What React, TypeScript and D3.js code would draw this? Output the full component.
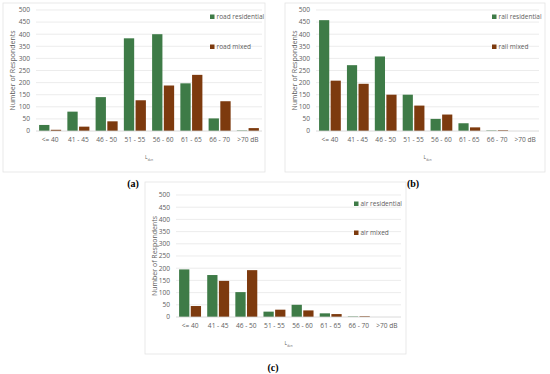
import React from "react";
import * as d3 from "d3";

const categories = ["<= 40", "41 - 45", "46 - 50", "51 - 55", "56 - 60", "61 - 65", "66 - 70", ">70 dB"];
const yTicks = [0, 50, 100, 150, 200, 250, 300, 350, 400, 450, 500];

const roadResidential = [25, 80, 140, 383, 400, 197, 52, 2];
const roadMixed = [5, 18, 40, 127, 188, 232, 123, 12];
const railResidential = [458, 272, 308, 150, 50, 32, 2, 0];
const railMixed = [208, 195, 150, 105, 68, 15, 3, 0];
const airResidential = [195, 172, 102, 22, 50, 15, 2, 0];
const airMixed = [45, 148, 192, 30, 27, 12, 3, 0];

const seriesKeys = ["residential", "mixed"];
const RES = "#3e7b47";
const MIX = "#7d3a0e";
const FONT = "'Open Sans', 'Liberation Sans', sans-serif";

type PanelProps = {
  frame: [number, number, number, number];
  plotX: [number, number];
  plotY: [number, number];
  res: number[];
  mix: number[];
  names: [string, string];
  legendX: number;
  legendY: [number, number];
  label: string;
  labelPos: [number, number];
};

function Panel(p: PanelProps) {
  const x = d3.scaleBand<string>().domain(categories).range(p.plotX).paddingInner(0.22).paddingOuter(0.11);
  const xi = d3.scaleBand<string>().domain(seriesKeys).range([0, x.bandwidth()]).paddingInner(0.12);
  const y = d3.scaleLinear().domain([0, 500]).range([p.plotY[1], p.plotY[0]]);
  const [fx, fy, fw, fh] = p.frame;
  const midX = (p.plotX[0] + p.plotX[1]) / 2;
  return (
    <g>
      <rect x={fx} y={fy} width={fw} height={fh} fill="#fff" stroke="#e3e3e3" strokeWidth={0.8} />
      {yTicks.map((t) => (
        <g key={t}>
          {t > 0 && (
            <line x1={p.plotX[0]} x2={p.plotX[1]} y1={y(t)} y2={y(t)} stroke="#e4e4e4" strokeWidth={0.7} />
          )}
          <text x={p.plotX[0] - 6} y={y(t)} dy="0.35em" textAnchor="end" fontSize={6.6} fill="#606060" fontFamily={FONT}>
            {t}
          </text>
        </g>
      ))}
      {categories.map((c, i) => (
        <g key={c}>
          <rect x={x(c)! + xi("residential")!} y={y(p.res[i])} width={xi.bandwidth()} height={y(0) - y(p.res[i])} fill={RES} />
          <rect x={x(c)! + xi("mixed")!} y={y(p.mix[i])} width={xi.bandwidth()} height={y(0) - y(p.mix[i])} fill={MIX} />
          <text x={x(c)! + x.bandwidth() / 2} y={p.plotY[1] + 11} textAnchor="middle" fontSize={6.6} fill="#606060" fontFamily={FONT}>
            {c}
          </text>
        </g>
      ))}
      <line x1={p.plotX[0]} x2={p.plotX[1]} y1={y(0)} y2={y(0)} stroke="#d0d0d0" strokeWidth={0.8} />
      <text
        transform={`translate(${fx + 12},${(p.plotY[0] + p.plotY[1]) / 2}) rotate(-90)`}
        textAnchor="middle"
        fontSize={7}
        fill="#606060"
        fontFamily={FONT}
      >
        Number of Respondents
      </text>
      <text x={midX} y={p.plotY[1] + 28} textAnchor="middle" fontSize={5} fill="#606060" fontFamily={FONT}>
        L
        <tspan fontSize={3} dy={1.5}>den</tspan>
      </text>
      {p.names.map((n, i) => (
        <g key={n}>
          <rect x={p.legendX} y={p.legendY[i] - 2.5} width={4.5} height={4.5} fill={i === 0 ? RES : MIX} />
          <text x={p.legendX + 6.5} y={p.legendY[i]} dy="0.35em" fontSize={6.5} fill="#606060" fontFamily={FONT}>
            {n}
          </text>
        </g>
      ))}
      <text x={p.labelPos[0]} y={p.labelPos[1]} textAnchor="middle" fontSize={10} fontWeight="bold" fontFamily="'Liberation Serif', 'DejaVu Serif', serif" fill="#000">
        {p.label}
      </text>
    </g>
  );
}

export default function App() {
  return (
    <svg width={550} height={374} style={{ position: "absolute", left: 0, top: 0 }}>
      <rect width={550} height={374} fill="#fff" />
      <Panel
        frame={[3, 3, 262, 169]}
        plotX={[36, 262]}
        plotY={[10, 131]}
        res={roadResidential}
        mix={roadMixed}
        names={["road residential", "road mixed"]}
        legendX={210}
        legendY={[17, 47]}
        label="(a)"
        labelPos={[133, 187]}
      />
      <Panel
        frame={[285, 3, 260, 169]}
        plotX={[316, 539]}
        plotY={[10, 131]}
        res={railResidential}
        mix={railMixed}
        names={["rail residential", "rail mixed"]}
        legendX={492}
        legendY={[17, 47]}
        label="(b)"
        labelPos={[413, 187]}
      />
      <Panel
        frame={[145, 182, 261, 172]}
        plotX={[176, 401]}
        plotY={[195, 317]}
        res={airResidential}
        mix={airMixed}
        names={["air residential", "air mixed"]}
        legendX={354}
        legendY={[204, 233]}
        label="(c)"
        labelPos={[273, 371]}
      />
    </svg>
  );
}
